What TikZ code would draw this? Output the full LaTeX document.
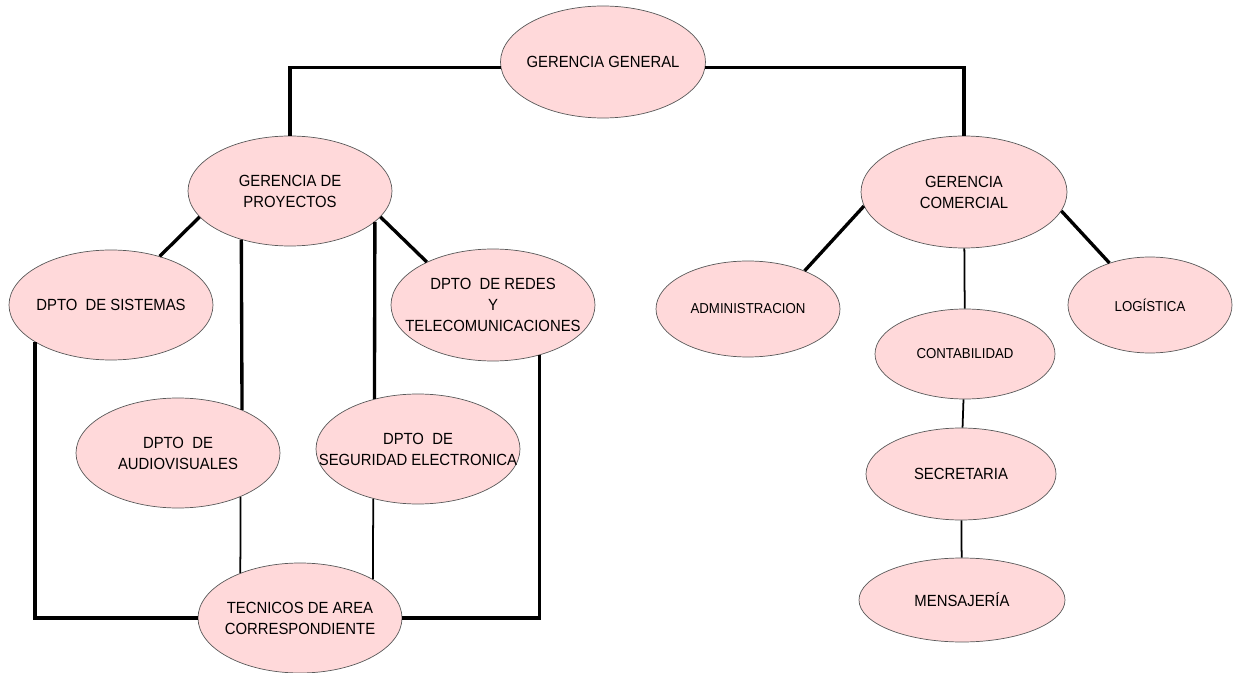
\documentclass[tikz,border=0pt]{standalone}
\usepackage{fontspec}
\setmainfont[FakeStretch=0.92]{Liberation Sans}
\usetikzlibrary{shapes.geometric}
\definecolor{rosa}{RGB}{255,217,218}
\tikzstyle{area} = [draw=black!65, fill=rosa, ellipse, inner xsep=-1.5cm, inner ysep=0pt, align=center, minimum width=4.08cm, minimum height=2.2cm, font={\fontsize{9.2}{12}\selectfont}]
\tikzstyle{chico} = [font={\fontsize{8.2}{10}\selectfont}]
\tikzstyle{grueso} = [line width=1.9pt]
\tikzstyle{fino} = [line width=1pt]

\begin{document}
\begin{tikzpicture}
    \useasboundingbox (0,0) rectangle (24.74,-13.46);
    \node[area,minimum width=4.1cm,minimum height=2.24cm](gg) at (12.06,-1.24){GERENCIA GENERAL};
    \node[area](gp) at (5.8,-3.82){GERENCIA DE\\PROYECTOS};
    \node[area,minimum width=4.12cm,minimum height=2.24cm](gc) at (19.28,-3.84){GERENCIA\\COMERCIAL};
    \node[area](sis) at (2.22,-6.1){DPTO\ \ DE SISTEMAS};
    \node[area,minimum height=2.24cm](red) at (9.86,-6.1){DPTO\ \ DE REDES\\Y\\TELECOMUNICACIONES};
    \node[area](aud) at (3.56,-9.06){DPTO\ \ DE\\AUDIOVISUALES};
    \node[area](seg) at (8.36,-8.98){DPTO\ \ DE\\SEGURIDAD ELECTRONICA};
    \node[area](tec) at (6.0,-12.36){TECNICOS DE AREA\\CORRESPONDIENTE};
    \node[area,chico,minimum width=3.68cm,minimum height=1.92cm](adm) at (14.96,-6.18){ADMINISTRACION};
    \node[area,chico,minimum width=3.28cm,minimum height=1.92cm](log) at (23.0,-6.1){LOGÍSTICA};
    \node[area,chico,minimum width=3.6cm,minimum height=1.8cm](con) at (19.3,-7.08){CONTABILIDAD};
    \node[area,minimum width=3.8cm,minimum height=1.84cm](sec) at (19.22,-9.48){SECRETARIA};
    \node[area,minimum width=4.12cm,minimum height=1.68cm](men) at (19.24,-12.0){MENSAJERÍA};
    \draw[grueso](gg.183) -| (gp.north);
    \draw[grueso](gg.357) -| (gc.north);
    \draw[grueso](gp.196) -- (sis.45);
    \draw[grueso](gp.344) -- (red.147);
    \draw[grueso](gp.225) -- (aud.34);
    \draw[grueso](gp.340) -- (seg.131);
    \draw[grueso](sis.206) |- (tec.west);
    \draw[grueso](red.313) |- (tec.east);
    \draw[fino](aud.325) -- (tec.143);
    \draw[fino](seg.228) -- (tec.28);
    \draw[grueso](gc.188) -- (adm.34);
    \draw[grueso](gc.349) -- (log.134);
    \draw[fino](gc) -- (con);
    \draw[fino](con) -- (sec);
    \draw[fino](sec) -- (men);
\end{tikzpicture}
\end{document}
